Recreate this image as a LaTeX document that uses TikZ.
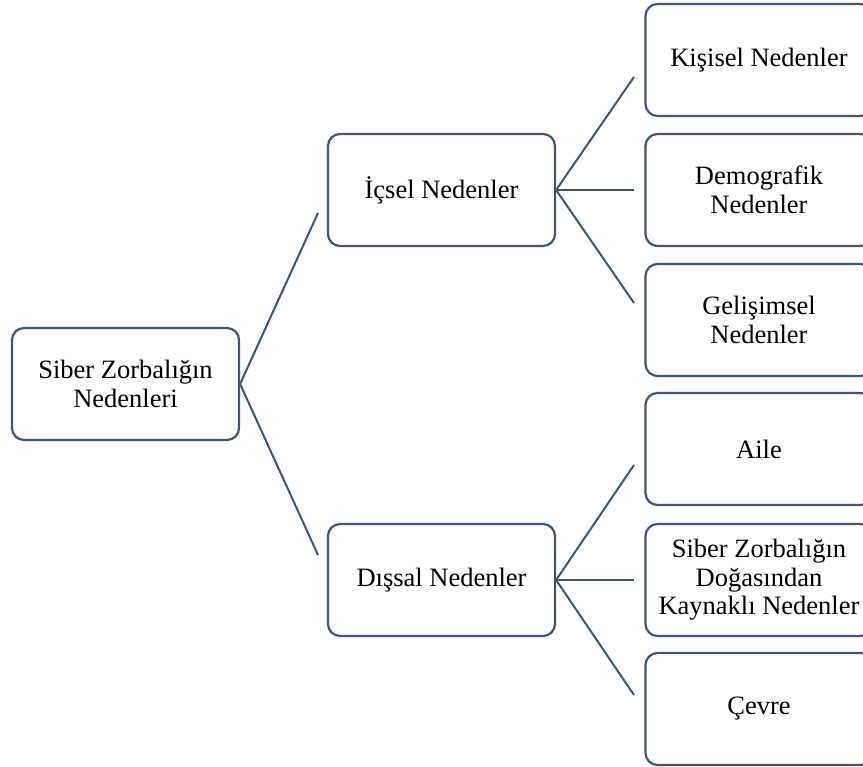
\documentclass[tikz,border=0pt]{standalone}
\usepackage{fontspec}
\setmainfont{Liberation Serif}
\definecolor{lc}{HTML}{44546A}
\begin{document}
\begin{tikzpicture}[x=1pt,y=-1pt,
  box/.style={draw=lc,line width=2.2pt,rounded corners=12pt,fill=white,minimum width=227pt,minimum height=112pt,align=center,inner sep=2pt,font=\fontsize{26.5}{28.5}\selectfont},
  conn/.style={draw=lc,line width=2pt}]
\useasboundingbox (0,0) rectangle (863,767);
\clip (0,0) rectangle (863,767);
\node[box] (root) at (125.5,384) {Siber Zorbalığın\\Nedenleri};
\node[box] (ic) at (441.5,190) {İçsel Nedenler};
\node[box] (dis) at (441.5,580) {Dışsal Nedenler};
\node[box] (k1) at (759,60) {Kişisel Nedenler};
\node[box] (k2) at (759,190) {Demografik\\Nedenler};
\node[box] (k3) at (759,320) {Gelişimsel\\Nedenler};
\node[box] (k4) at (759,449) {Aile};
\node[box] (k5) at (759,580) {Siber Zorbalığın\\Doğasından\\Kaynaklı Nedenler};
\node[box] (k6) at (759,709) {Çevre};
\coordinate (e1) at (318,213);
\coordinate (e2) at (318,555);
\coordinate (f1) at (634,77);
\coordinate (f2) at (634,190);
\coordinate (f3) at (634,303);
\coordinate (g1) at (634,465);
\coordinate (g2) at (634,580);
\coordinate (g3) at (634,695);
\draw[conn] (root.east) -- (e1);
\draw[conn] (root.east) -- (e2);
\draw[conn] (ic.east) -- (f1);
\draw[conn] (ic.east) -- (f2);
\draw[conn] (ic.east) -- (f3);
\draw[conn] (dis.east) -- (g1);
\draw[conn] (dis.east) -- (g2);
\draw[conn] (dis.east) -- (g3);
\end{tikzpicture}
\end{document}
